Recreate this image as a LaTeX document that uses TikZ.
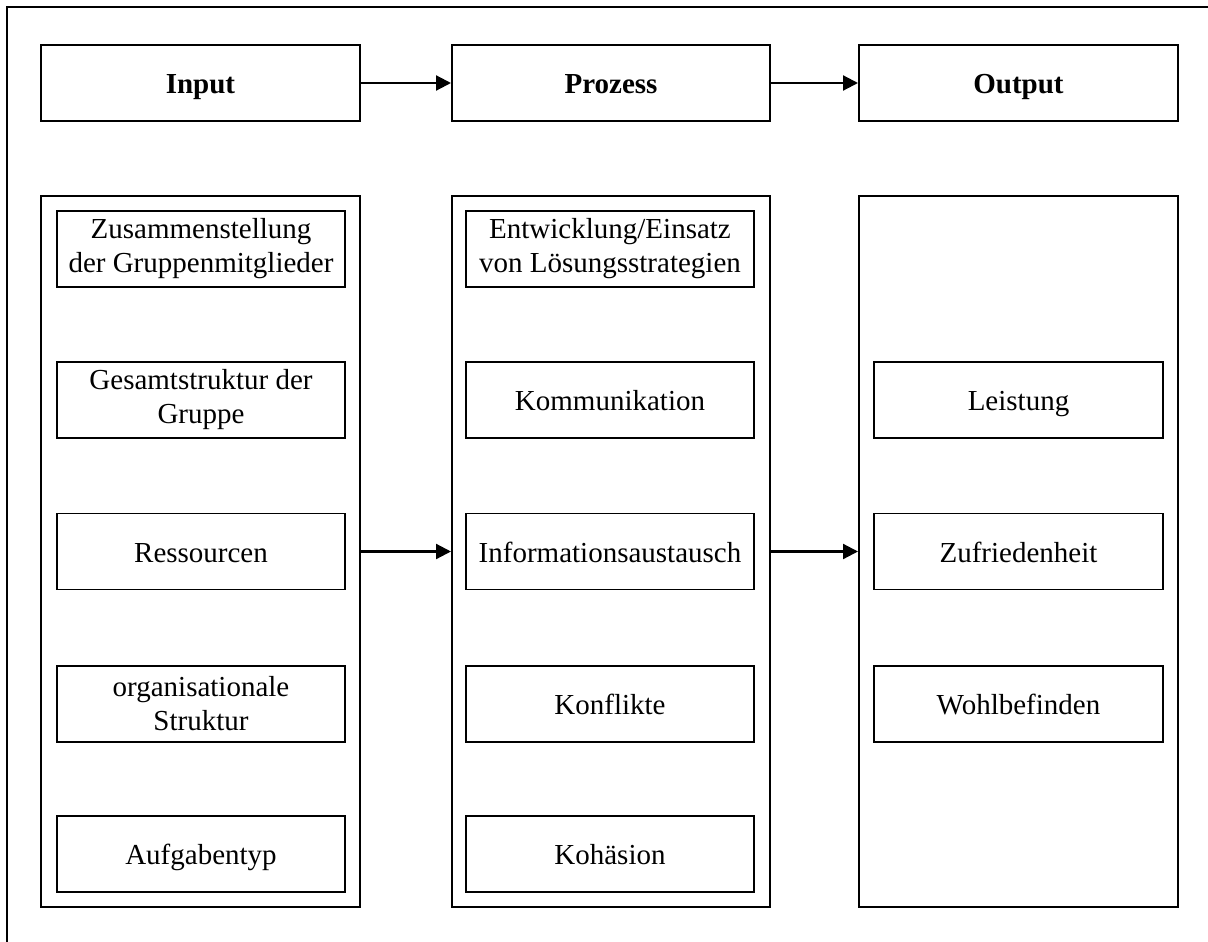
\documentclass[tikz,border=0pt]{standalone}
\usepackage{fontspec}
\setmainfont{Liberation Serif}
\usetikzlibrary{arrows.meta}
\tikzset{
  headbox/.style={draw, line width=2pt, minimum width=319pt, minimum height=76pt, inner sep=0pt, text height=21pt, text depth=0pt, font=\fontsize{29}{34}\selectfont\bfseries},
  colbox/.style={draw, line width=2pt, minimum width=319pt, minimum height=711pt, inner sep=0pt},
  itembox/.style={draw, line width=1.5pt, minimum width=288pt, minimum height=76pt, inner sep=0pt, align=center, font=\fontsize{29}{34}\selectfont},
  oneline/.style={text height=21pt, text depth=0pt},
  conn/.style={line width=2.2pt, -{Triangle[length=15pt,width=15pt]}},
  framelines/.style={line width=2.5pt}
}
\begin{document}
\begin{tikzpicture}[x=1pt,y=-1pt]
\useasboundingbox (0,0) rectangle (1208,942);
\coordinate (fb) at (7,943);
\coordinate (fc) at (7,7);
\coordinate (fr) at (1209,7);
\draw[framelines] (fb) -- (fc) -- (fr);

\node[headbox] (hin) at (200.5,83) {Input};
\node[headbox, minimum width=318pt] (hpr) at (611,83) {Prozess};
\node[headbox] (hout) at (1018.5,83) {Output};

\node[colbox] (cin) at (200.5,551.5) {};
\node[colbox, minimum width=318pt] (cpr) at (611,551.5) {};
\node[colbox] (cout) at (1018.5,551.5) {};

\node[itembox] (i1) at (201,249) {Zusammenstellung\\der Gruppenmitglieder};
\node[itembox] (i2) at (201,400) {Gesamtstruktur der\\Gruppe};
\node[itembox, oneline] (i3) at (201,551.5) {Ressourcen};
\node[itembox] (i4) at (201,704) {organisationale\\Struktur};
\node[itembox, oneline] (i5) at (201,854) {Aufgabentyp};

\node[itembox] (p1) at (610,249) {Entwicklung/Einsatz\\von Lösungsstrategien};
\node[itembox, oneline] (p2) at (610,400) {Kommunikation};
\node[itembox, oneline] (p3) at (610,551.5) {Informationsaustausch};
\node[itembox, oneline] (p4) at (610,704) {Konflikte};
\node[itembox, oneline] (p5) at (610,854) {Kohäsion};

\node[itembox, oneline, minimum width=289pt] (o1) at (1018.5,400) {Leistung};
\node[itembox, oneline, minimum width=289pt] (o2) at (1018.5,551.5) {Zufriedenheit};
\node[itembox, oneline, minimum width=289pt] (o3) at (1018.5,704) {Wohlbefinden};

\draw[conn] (hin) -- (hpr);
\draw[conn] (hpr) -- (hout);
\draw[conn] (cin) -- (cpr);
\draw[conn] (cpr) -- (cout);
\end{tikzpicture}
\end{document}
